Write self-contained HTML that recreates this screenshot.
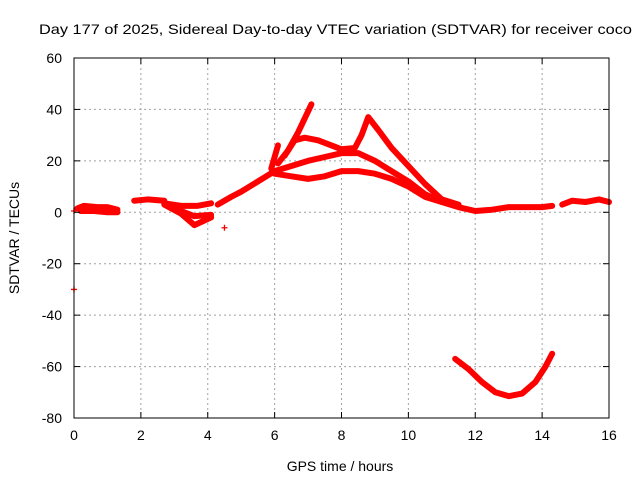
<!DOCTYPE html>
<html><head><meta charset="utf-8"><style>body{margin:0;background:#fff}svg{display:block;font-family:"Liberation Sans",sans-serif}</style></head>
<body>
<svg id="chart" width="640" height="480" viewBox="0 0 640 480">
<text x="39" y="34" font-size="14" textLength="593" lengthAdjust="spacingAndGlyphs">Day 177 of 2025, Sidereal Day-to-day VTEC variation (SDTVAR) for receiver coco</text>
<g id="grid"></g><g id="marks"></g><g id="axes"></g>
<text x="340" y="471" font-size="14" text-anchor="middle">GPS time / hours</text>
<text transform="translate(19,238) rotate(-90)" font-size="14" text-anchor="middle">SDTVAR / TECUs</text>
</svg>
<script>
const xTicks=[0,2,4,6,8,10,12,14,16];
const yTicks=[-80,-60,-40,-20,0,20,40,60];
const seriesEarly=[[0.1,1.5],[0.3,2.5],[0.7,2],[1.0,2],[1.3,1]];
const seriesEarly2=[[0.2,0.5],[0.6,0.5],[1.0,0],[1.3,0]];
const seriesB=[[1.8,4.5],[2.2,5],[2.7,4.5]];
const seriesC=[[2.7,3.5],[3.2,2.5],[3.7,2.5],[4.1,3.5]];
const seriesD=[[2.7,3],[3.2,-0.5],[3.6,-5],[4.1,-2]];
const seriesD2=[[3.0,1.5],[3.6,-1.5],[4.1,-1]];
const seriesRise=[[4.3,3],[4.7,6],[5,8],[5.5,12],[6,16]];
const seriesLow=[[6,15],[6.5,14],[7,13],[7.5,14],[8,16],[8.5,16],[9,15],[9.5,13],[10,10],[10.5,6],[11,4],[11.5,2],[12,0.5],[12.5,1],[13,2],[14,2],[14.3,2.5]];
const seriesMid=[[6,16],[6.5,18],[7,20],[7.5,21.5],[8,23],[8.5,23],[9,20],[9.5,16],[10,12],[10.5,7],[11,4],[11.5,2.5]];
const seriesSpike=[[6.1,19],[6.4,24],[6.7,31],[7.1,42]];
const seriesHump=[[6.3,22],[6.6,28],[6.9,29],[7.3,28],[7.7,26],[8,24.5],[8.4,25],[8.6,30],[8.8,37],[9.1,32],[9.5,25],[10,18],[10.5,11],[11,5],[11.5,3]];
const seriesShort=[[5.9,17],[6.1,26]];
const seriesLate=[[14.6,3],[14.9,4.5],[15.3,4],[15.7,5],[16,4]];
const seriesParab=[[11.4,-57],[11.8,-61],[12.2,-66],[12.6,-70],[13,-71.5],[13.4,-70.5],[13.8,-66],[14.1,-60],[14.3,-55]];
const outliers=[[0,-30],[4.5,-6],[0,0.5]];
const allSeries=[seriesEarly,seriesEarly2,seriesB,seriesC,seriesD,seriesD2,seriesRise,seriesLow,seriesMid,seriesSpike,seriesHump,seriesShort,seriesLate,seriesParab];
const X0=74,X1=609,Y0=418,Y1=58;
const sx=v=>X0+(v-0)/(16-0)*(X1-X0);
const sy=v=>Y0-(v+80)/(140)*(Y0-Y1);
const NS='http://www.w3.org/2000/svg';
function mk(t,a,p){const e=document.createElementNS(NS,t);for(const k in a)e.setAttribute(k,a[k]);p.appendChild(e);return e;}
const grid=document.getElementById('grid'),axes=document.getElementById('axes'),marks=document.getElementById('marks');
xTicks.forEach(t=>{const x=sx(t);
 if(t>0&&t<16){const g=mk('line',{x1:x,x2:x,y1:Y1,y2:Y0,stroke:'#a0a0a0','stroke-dasharray':'2,3'},grid);
 }
 mk('line',{x1:x,x2:x,y1:Y0,y2:Y0-6,stroke:'#000'},axes);mk('line',{x1:x,x2:x,y1:Y1,y2:Y1+6,stroke:'#000'},axes);
 const l=mk('text',{x:x,y:Y0+22,'font-size':14,'text-anchor':'middle'},axes);l.textContent=t;
 });
yTicks.forEach(t=>{const y=sy(t);
 if(t>-80&&t<60){const g=mk('line',{x1:X0,x2:X1,y1:y,y2:y,stroke:'#a0a0a0','stroke-dasharray':'2,3'},grid);
 }
 mk('line',{x1:X0,x2:X0+6,y1:y,y2:y,stroke:'#000'},axes);mk('line',{x1:X1,x2:X1-6,y1:y,y2:y,stroke:'#000'},axes);
 const l=mk('text',{x:X0-12,y:y+5,'font-size':14,'text-anchor':'end'},axes);l.textContent=t;
 });
const b=mk('rect',{x:X0,y:Y1,width:X1-X0,height:Y0-Y1,fill:'none',stroke:'#000'},axes);

allSeries.forEach(s=>{const p=mk('polyline',{points:s.map(d=>sx(d[0])+','+sy(d[1])).join(' '),fill:'none',stroke:'#f00','stroke-width':6,'stroke-linejoin':'round','stroke-linecap':'round'},marks);
 });
outliers.forEach(d=>{const x=sx(d[0]),y=sy(d[1]);
 const p=mk('path',{d:`M${x-3},${y}h6M${x},${y-3}v6`,stroke:'#f00','stroke-width':1.3},marks);
 });
</script>
</body></html>
